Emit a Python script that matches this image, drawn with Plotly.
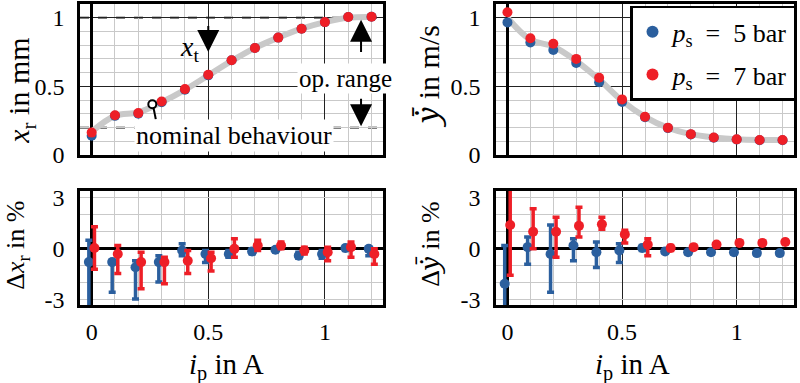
import plotly.graph_objects as go

# ---------------- data ----------------
ip = [0.0, 0.1, 0.2, 0.3, 0.4, 0.5, 0.6, 0.7, 0.8, 0.9, 1.0, 1.1, 1.2]

# top-left: valve spool position x_r in mm
xr_nominal = [0.17, 0.285, 0.31, 0.385, 0.475, 0.58, 0.685, 0.78, 0.855, 0.92, 0.968, 1.0, 1.005]
xr_5bar = [0.14, 0.285, 0.30, 0.385, 0.475, 0.58, 0.69, 0.78, 0.855, 0.92, 0.968, 1.005, 1.007]
xr_7bar = [0.163, 0.29, 0.305, 0.39, 0.48, 0.585, 0.69, 0.78, 0.855, 0.92, 0.968, 1.005, 1.007]

# top-right: mean velocity in m/s
yd_nominal = [1.0, 0.84, 0.79, 0.685, 0.55, 0.395, 0.278, 0.198, 0.152, 0.128, 0.114, 0.109, 0.109]
yd_5bar = [0.966, 0.82, 0.765, 0.67, 0.53, 0.386, 0.275, 0.196, 0.15, 0.126, 0.113, 0.108, 0.108]
yd_7bar = [1.04, 0.85, 0.81, 0.70, 0.563, 0.405, 0.278, 0.198, 0.152, 0.128, 0.114, 0.109, 0.109]

# bottom-left: deviation of x_r in % (centre, lower end, upper end)
dxr_5_c = [-0.78, -0.78, -1.08, -0.78, -0.1, -0.3, -0.3, -0.15, -0.05, -0.4, -0.3, 0.05, 0.0]
dxr_5_lo = [-4.0, -2.55, -2.95, -1.95, -0.4, -0.8, -0.5, -0.3, -0.15, -0.55, -0.55, -0.1, -0.4]
dxr_5_hi = [0.5, -0.65, -0.7, -0.4, 0.3, -0.1, -0.1, 0.0, 0.05, -0.2, -0.1, 0.15, 0.1]
dxr_7_c = [0.05, -0.3, -0.78, -0.78, -0.7, -0.55, 0.0, 0.2, 0.2, -0.1, -0.2, 0.1, -0.3]
dxr_7_lo = [-1.2, -1.45, -2.35, -2.05, -1.45, -1.3, -0.5, -0.1, 0.0, -0.3, -0.7, -0.5, -0.9]
dxr_7_hi = [1.3, 0.2, -0.2, -0.5, -0.1, -0.2, 0.6, 0.5, 0.4, 0.1, 0.1, 0.4, 0.0]

# bottom-right: deviation of mean velocity in %
dyd_5_c = [-2.05, 0.1, -0.3, 0.2, -0.2, -0.1, 0.05, -0.15, -0.2, -0.2, -0.2, -0.25, -0.25]
dyd_5_lo = [-4.0, -0.9, -2.55, -0.7, -1.1, -0.8, -0.1, -0.25, -0.3, -0.3, -0.3, -0.35, -0.35]
dyd_5_hi = [0.2, 0.7, 1.4, 0.6, 0.4, 0.3, 0.2, -0.05, -0.1, -0.1, -0.1, -0.15, -0.15]
dyd_7_c = [1.4, 1.0, 1.0, 1.35, 1.45, 0.85, 0.25, 0.05, 0.1, 0.25, 0.35, 0.35, 0.4]
dyd_7_lo = [-1.55, 0.0, -0.5, 0.7, 1.15, 0.35, -0.4, -0.1, 0.0, 0.15, 0.25, 0.25, 0.3]
dyd_7_hi = [4.0, 2.35, 1.85, 2.45, 1.85, 1.1, 0.6, 0.2, 0.2, 0.35, 0.45, 0.45, 0.5]

x_ticks = [0, 0.5, 1]
x_ticktext = ["0", "0.5", "1"]
y_top_ticks = [0, 0.5, 1]
y_top_ticktext = ["0", "0.5", "1"]
y_bot_ticks = [-3, 0, 3]
y_bot_ticktext = ["-3", "0", "3"]

# ---------------- style ----------------
BLUE = "#2b5f9e"
RED = "#ee1f27"
GRAY = "#c9c9c9"
FONT = "Liberation Serif"
OFF = 0.012
YDOT = '<span style="font-family:Noto Serif"><i>y\u0307\u0304</i></span>'

fig = go.Figure()

# nominal lines
fig.add_trace(go.Scatter(x=ip, y=xr_nominal, mode="lines", line=dict(color=GRAY, width=6, shape="spline"),
                         showlegend=False, xaxis="x", yaxis="y", hoverinfo="skip"))
fig.add_trace(go.Scatter(x=ip, y=yd_nominal, mode="lines", line=dict(color=GRAY, width=6, shape="spline"),
                         showlegend=False, xaxis="x2", yaxis="y2", hoverinfo="skip"))

# top-left points
fig.add_trace(go.Scatter(x=ip, y=xr_5bar, mode="markers", marker=dict(color=BLUE, size=10),
                         showlegend=False, xaxis="x", yaxis="y"))
fig.add_trace(go.Scatter(x=ip, y=xr_7bar, mode="markers", marker=dict(color=RED, size=10),
                         showlegend=False, xaxis="x", yaxis="y"))
# top-right points (legend)
fig.add_trace(go.Scatter(x=ip, y=yd_5bar, mode="markers", marker=dict(color=BLUE, size=10),
                         name="<i>p</i><sub>s</sub>  =  5 bar", legendgroup="a", xaxis="x2", yaxis="y2"))
fig.add_trace(go.Scatter(x=ip, y=yd_7bar, mode="markers", marker=dict(color=RED, size=10),
                         name="<i>p</i><sub>s</sub>  =  7 bar", legendgroup="b", xaxis="x2", yaxis="y2"))


def err_trace(c, lo, hi, color, shift, xa, ya):
    xs = [v + shift for v in ip]
    return go.Scatter(
        x=xs, y=c, mode="markers", marker=dict(color=color, size=10),
        error_y=dict(type="data", symmetric=False,
                     array=[h - m for h, m in zip(hi, c)],
                     arrayminus=[m - l for m, l in zip(c, lo)],
                     color=color, thickness=3.5, width=3.5),
        showlegend=False, xaxis=xa, yaxis=ya)


fig.add_trace(err_trace(dxr_5_c, dxr_5_lo, dxr_5_hi, BLUE, -OFF, "x3", "y3"))
fig.add_trace(err_trace(dxr_7_c, dxr_7_lo, dxr_7_hi, RED, OFF, "x3", "y3"))
fig.add_trace(err_trace(dyd_5_c, dyd_5_lo, dyd_5_hi, BLUE, -OFF, "x4", "y4"))
fig.add_trace(err_trace(dyd_7_c, dyd_7_lo, dyd_7_hi, RED, OFF, "x4", "y4"))

# nominal behaviour marker
nom_pt = (0.26, 0.37)
fig.add_trace(go.Scatter(x=[nom_pt[0]], y=[nom_pt[1]], mode="markers",
                         marker=dict(color="white", size=8, line=dict(color="black", width=2)),
                         showlegend=False, xaxis="x", yaxis="y"))

XR = [-0.05, 1.25]
XDOM_L = [0.1, 0.479]
XDOM_R = [0.62, 0.9925]
YDOM_T = [0.5953, 0.9896]
YDOM_B = [0.2037, 0.5013]
tickfont = dict(family=FONT, size=24, color="black")


def xaxis(dom, anchor, labels):
    return dict(domain=dom, anchor=anchor, range=XR, tickvals=x_ticks, ticktext=x_ticktext,
                showticklabels=labels, tickfont=tickfont, ticks="", ticklabelstandoff=3,
                automargin=False,
                showgrid=True, gridcolor="#222222", gridwidth=1,
                minor=dict(dtick=0.1, tick0=0, showgrid=True, gridcolor=GRAY, gridwidth=1),
                zeroline=True, zerolinecolor="black", zerolinewidth=2.5,
                showline=True, linecolor="black", linewidth=2.5, mirror=True)


def yaxis(dom, anchor, rng, tv, tt, minor_dt, major_col):
    return dict(domain=dom, anchor=anchor, range=rng, tickvals=tv, ticktext=tt,
                tickfont=tickfont, ticks="", ticklabelstandoff=8, automargin=False,
                showgrid=True, gridcolor=major_col, gridwidth=1,
                minor=dict(dtick=minor_dt, tick0=0, showgrid=True, gridcolor=GRAY, gridwidth=1),
                zeroline=True, zerolinecolor="black", zerolinewidth=2.5,
                showline=True, linecolor="black", linewidth=2.5, mirror=True)


fig.update_layout(
    width=800, height=383, margin=dict(l=0, r=0, t=0, b=0, pad=0, autoexpand=False),
    paper_bgcolor="white", plot_bgcolor="white",
    font=dict(family=FONT, size=24, color="black"),
    xaxis=xaxis(XDOM_L, "y", False),
    yaxis=yaxis(YDOM_T, "x", [0, 1.1], y_top_ticks, y_top_ticktext, 0.1, "#222222"),
    xaxis2=xaxis(XDOM_R, "y2", False),
    yaxis2=yaxis(YDOM_T, "x2", [0, 1.1], y_top_ticks, y_top_ticktext, 0.1, "#222222"),
    xaxis3=xaxis(XDOM_L, "y3", True),
    yaxis3=yaxis(YDOM_B, "x3", [-3.3, 3.4], y_bot_ticks, y_bot_ticktext, 1, GRAY),
    xaxis4=xaxis(XDOM_R, "y4", True),
    yaxis4=yaxis(YDOM_B, "x4", [-3.3, 3.4], y_bot_ticks, y_bot_ticktext, 1, GRAY),
    legend=dict(x=0.995, y=0.985, xanchor="right", yanchor="top",
                bgcolor="white", bordercolor="black", borderwidth=2.5,
                font=dict(family=FONT, size=26, color="black"),
                tracegroupgap=6, itemsizing="constant", itemwidth=30),
    showlegend=True,
)

# dashed operating-range lines
for yv in (1.0, 0.2):
    fig.add_shape(type="line", xref="x", yref="y", x0=XR[0], x1=XR[1], y0=yv, y1=yv,
                  line=dict(color="black", width=1.8, dash="dash"), layer="below")
# nominal behaviour leader line
fig.add_shape(type="line", xref="x", yref="y", x0=0.265, y0=0.345, x1=0.275, y1=0.26,
              line=dict(color="black", width=2))

arrow = dict(showarrow=True, arrowhead=2, arrowsize=2.2, arrowwidth=2, arrowcolor="black",
             xref="x", yref="y", axref="x", ayref="y", text="")
fig.add_annotation(x=0.5, y=0.75, ax=0.5, ay=0.95, **arrow)
fig.add_annotation(x=1.155, y=0.985, ax=1.155, ay=0.74, **arrow)
fig.add_annotation(x=1.155, y=0.21, ax=1.155, ay=0.42, **arrow)

fig.add_annotation(x=0.42, y=0.775, xref="x", yref="y", showarrow=False,
                   text="<i>x</i><sub>t</sub>", font=dict(family=FONT, size=28))
fig.add_annotation(x=1.09, y=0.56, xref="x", yref="y", showarrow=False, bgcolor="white",
                   text="op. range", font=dict(family=FONT, size=25))
fig.add_annotation(x=0.61, y=0.14, xref="x", yref="y", showarrow=False, bgcolor="white",
                   text="nominal behaviour", font=dict(family=FONT, size=26))

# axis titles
titles = [
    (0.027, 0.762, "<i>x</i><sub>r</sub> in mm", -90, 30),
    (0.535, 0.80, YDOT + " in m/s", -90, 30),
    (0.022, 0.360, "\u0394<i>x</i><sub>r</sub> in %", -90, 26),
    (0.536, 0.363, "\u0394" + YDOT + " in %", -90, 26),
    (0.283, 0.044, "<i>i</i><sub>p</sub> in A", 0, 29),
    (0.79, 0.044, "<i>i</i><sub>p</sub> in A", 0, 29),
]
for x, y, t, ang, sz in titles:
    fig.add_annotation(x=x, y=y, xref="paper", yref="paper", text=t, textangle=ang,
                       showarrow=False, font=dict(family=FONT, size=sz, color="black"),
                       xanchor="center", yanchor="middle")

fig.write_html("out.html", config={"displayModeBar": False},
               post_script="document.body.style.margin='0';document.body.style.overflow='hidden';")
